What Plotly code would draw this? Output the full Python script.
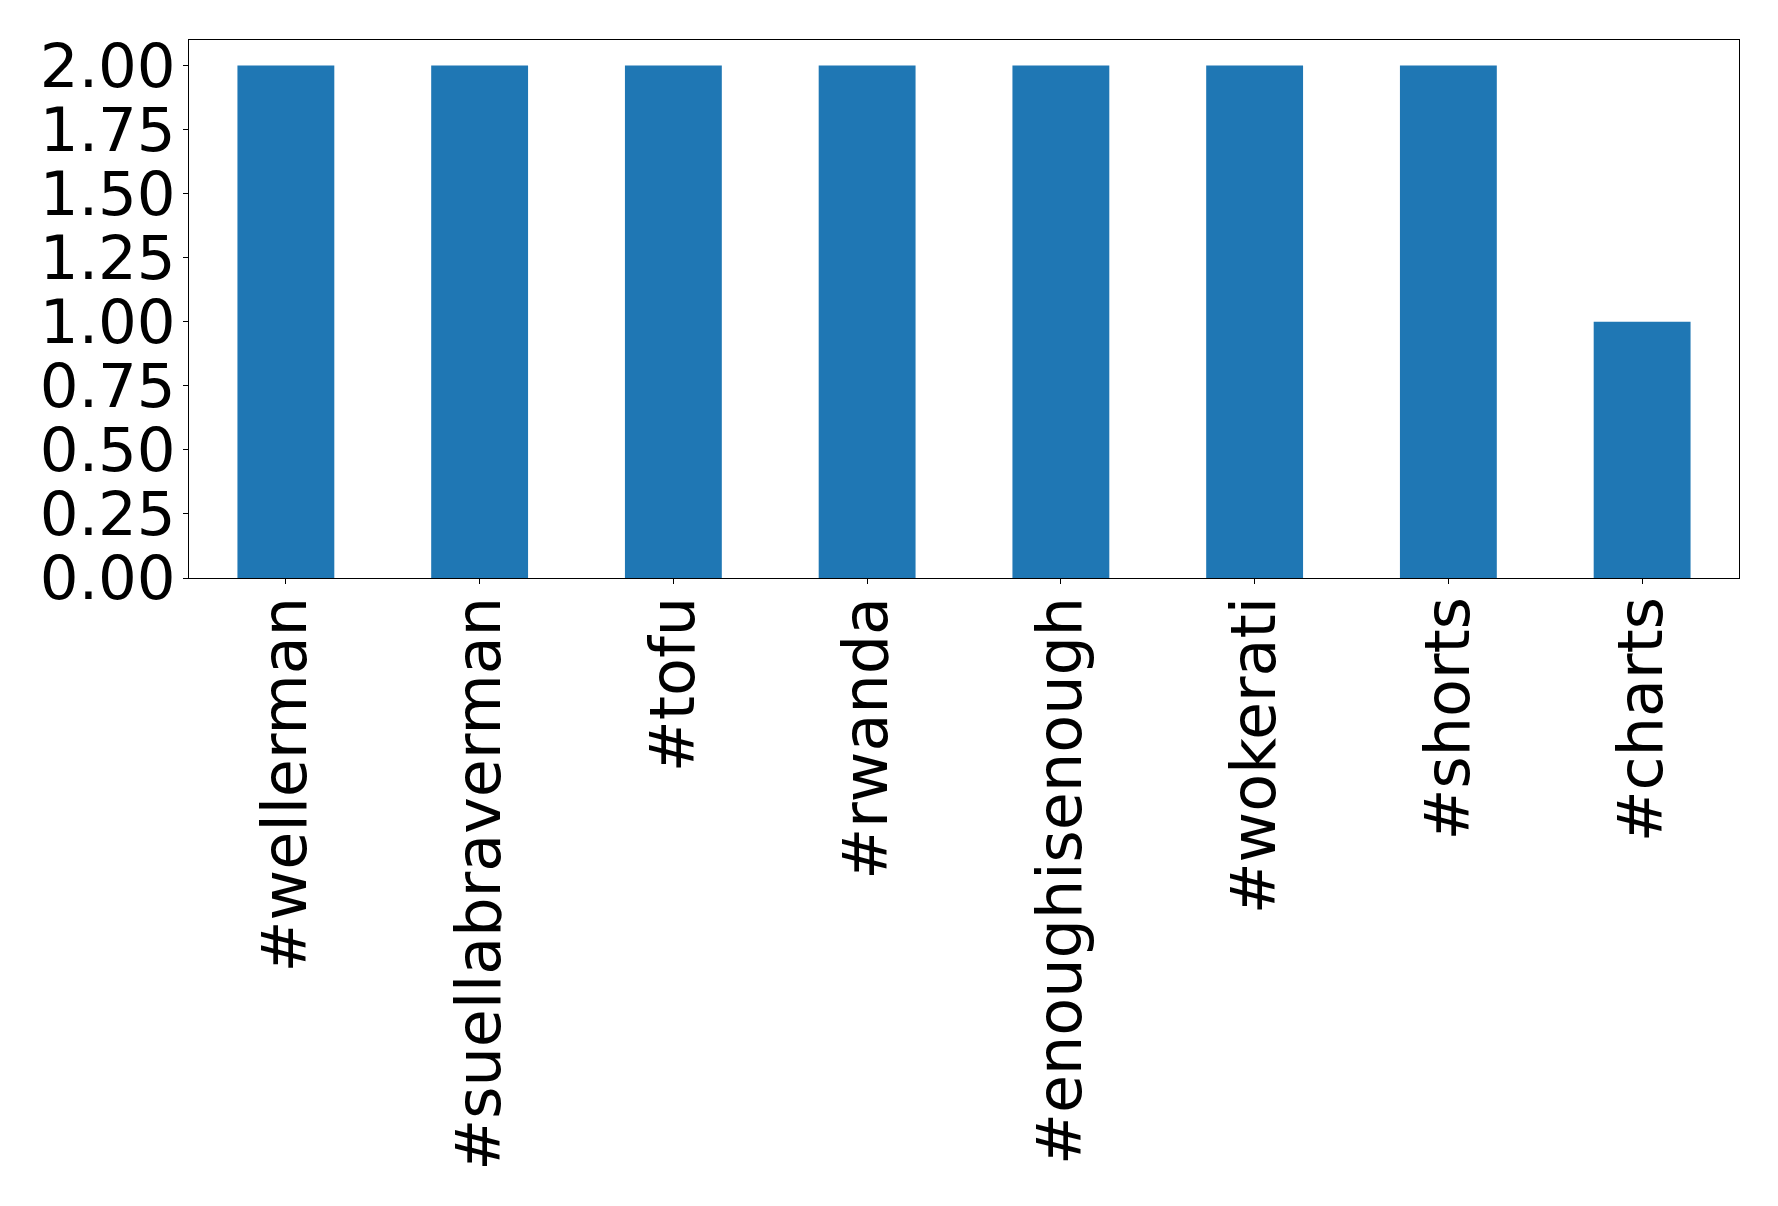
import plotly.graph_objects as go

categories = ["#wellerman", "#suellabraverman", "#tofu", "#rwanda",
              "#enoughisenough", "#wokerati", "#shorts", "#charts"]
counts = [2, 2, 2, 2, 2, 2, 2, 1]
ytick_vals = [0, 0.25, 0.5, 0.75, 1.0, 1.25, 1.5, 1.75, 2.0]
ytick_text = ["0.00", "0.25", "0.50", "0.75", "1.00", "1.25", "1.50", "1.75", "2.00"]

fig = go.Figure(go.Bar(
    x=list(range(len(categories))), y=counts, width=0.5,
    marker=dict(color="#1f77b4", line=dict(width=0)),
))

axis_common = dict(showline=True, linecolor="black", linewidth=1.2, mirror=True,
                   ticks="outside", ticklen=5, tickwidth=1.2, tickcolor="black",
                   showgrid=False, zeroline=False, automargin=False)

# page body has an 8px default margin, so figure is offset by 8px
fig.update_layout(
    width=1770, height=1198,
    margin=dict(l=181, r=39, t=32, b=628),
    paper_bgcolor="white", plot_bgcolor="white",
    showlegend=False,
    xaxis=dict(range=[-0.5, 7.5], tickmode="array",
               tickvals=list(range(len(categories))), ticktext=categories,
               tickangle=-90, ticklabelstandoff=-12,
               tickfont=dict(family="DejaVu Sans", size=62, color="black"),
               **axis_common),
    yaxis=dict(range=[0, 2.1], tickmode="array", tickvals=ytick_vals,
               ticktext=ytick_text, ticklabelstandoff=-5,
               tickfont=dict(family="DejaVu Sans", size=61, color="black"),
               **axis_common),
)
fig.write_html("out.html")
